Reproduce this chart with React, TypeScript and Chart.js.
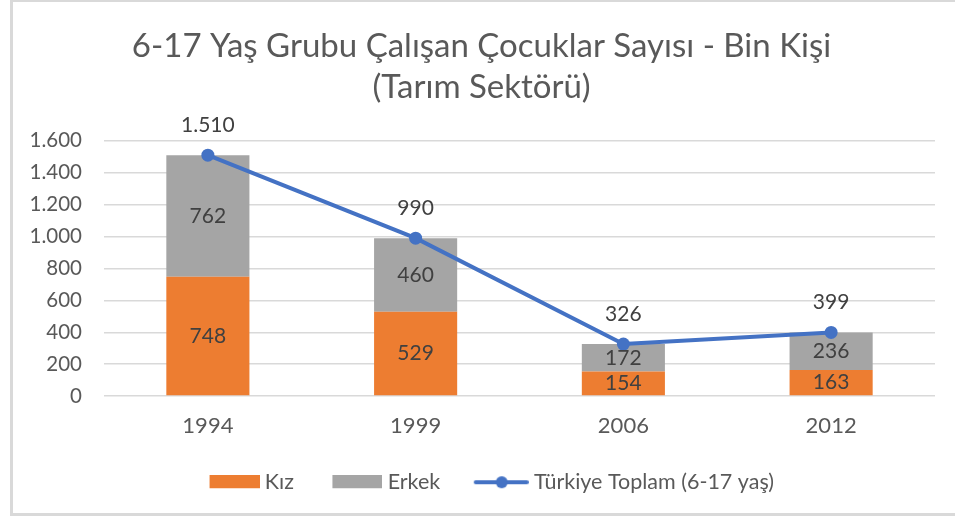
import React, { useEffect, useRef } from "react";
import { Chart, registerables } from "chart.js";

Chart.register(...registerables);

const categories = ["1994", "1999", "2006", "2012"];
const kizValues = [748, 529, 154, 163];
const erkekValues = [762, 460, 172, 236];
const toplamValues = [1510, 990, 326, 399];
const yTicks = [0, 200, 400, 600, 800, 1000, 1200, 1400, 1600];
const titleLines = ["6-17 Yaş Grubu Çalışan Çocuklar Sayısı - Bin Kişi", "(Tarım Sektörü)"];
const seriesNames = ["Kız", "Erkek", "Türkiye Toplam (6-17 yaş)"];

const ORANGE = "#ED7D31";
const GRAY = "#A5A5A5";
const BLUE = "#4472C4";
const TEXT = "#595959";
const LABEL = "#404040";
const FONT = 'Lato, "Open Sans", sans-serif';

const PLOT_LEFT = 104;
const LEGEND_SHIFT = 16.5;
const TITLE_SHIFT = 14;
const LEG_W = 60; // reserved legend box width
const LEG_C = 71; // icon canvas width

const fmt = (n: number) => String(Math.round(n)).replace(/\B(?=(\d{3})+(?!\d))/g, ".");

function rectIcon(color: string) {
  const c = document.createElement("canvas");
  c.width = LEG_C;
  c.height = 14;
  const ctx = c.getContext("2d")!;
  ctx.fillStyle = color;
  ctx.fillRect(LEG_C - 50, 0, 50, 13);
  return c;
}

function lineIcon(color: string) {
  const c = document.createElement("canvas");
  c.width = LEG_C;
  c.height = 14;
  const ctx = c.getContext("2d")!;
  ctx.strokeStyle = color;
  ctx.lineWidth = 4;
  ctx.lineCap = "round";
  ctx.beginPath();
  ctx.moveTo(LEG_C - 53, 7);
  ctx.lineTo(LEG_C - 2, 7);
  ctx.stroke();
  ctx.fillStyle = color;
  ctx.beginPath();
  ctx.arc(LEG_C - 27, 7, 6, 0, Math.PI * 2);
  ctx.fill();
  return c;
}

const shiftBlocks = {
  id: "shiftBlocks",
  afterLayout(chart: any) {
    if (chart.legend) {
      chart.legend.left += LEGEND_SHIFT;
      chart.legend.right += LEGEND_SHIFT;
    }
    if (chart.titleBlock) {
      chart.titleBlock.left += TITLE_SHIFT;
      chart.titleBlock.right += TITLE_SHIFT;
    }
  },
};

const dataLabels = {
  id: "dataLabels",
  afterDatasetsDraw(chart: any) {
    const ctx = chart.ctx;
    ctx.save();
    ctx.font = `21px ${FONT}`;
    ctx.fillStyle = LABEL;
    ctx.textAlign = "center";
    ctx.textBaseline = "middle";
    chart.data.datasets.forEach((ds: any, di: number) => {
      const meta = chart.getDatasetMeta(di);
      meta.data.forEach((el: any, i: number) => {
        const v = ds.data[i];
        if (ds.type === "line") {
          ctx.fillText(fmt(v), el.x, el.y - 30);
        } else {
          ctx.fillText(fmt(v), el.x, (el.y + el.base) / 2);
        }
      });
    });
    ctx.restore();
  },
};

export default function App() {
  const ref = useRef<HTMLCanvasElement>(null);
  useEffect(() => {
    if (!ref.current) return;
    const icons = [rectIcon(ORANGE), rectIcon(GRAY), lineIcon(BLUE)];
    const chart = new Chart(ref.current, {
      type: "bar",
      data: {
        labels: categories,
        datasets: [
          {
            type: "bar",
            label: seriesNames[0],
            data: kizValues,
            backgroundColor: ORANGE,
            stack: "bars",
            order: 1,
            categoryPercentage: 1,
            barPercentage: 0.4,
          },
          {
            type: "bar",
            label: seriesNames[1],
            data: erkekValues,
            backgroundColor: GRAY,
            stack: "bars",
            order: 1,
            categoryPercentage: 1,
            barPercentage: 0.4,
          },
          {
            type: "line",
            label: seriesNames[2],
            data: toplamValues,
            borderColor: BLUE,
            backgroundColor: BLUE,
            borderWidth: 4,
            pointRadius: 6.5,
            pointBackgroundColor: BLUE,
            pointBorderWidth: 0,
            stack: "line",
            order: 0,
          } as any,
        ],
      },
      options: {
        animation: false,
        responsive: false,
        maintainAspectRatio: false,
        layout: { padding: { left: 0, right: 20, top: 0, bottom: 14 } },
        plugins: {
          tooltip: { enabled: false },
          title: {
            display: true,
            text: titleLines,
            color: TEXT,
            font: { family: FONT, size: 33, weight: "normal", lineHeight: 1.24 },
            padding: { top: 26, bottom: 33 },
          },
          legend: {
            position: "bottom",
            labels: {
              color: TEXT,
              font: { family: FONT, size: 21.5 },
              usePointStyle: true,
              pointStyleWidth: LEG_W,
              padding: 23,
              generateLabels: () =>
                seriesNames.map((name, i) => ({
                  text: name,
                  fillStyle: "transparent",
                  strokeStyle: "transparent",
                  lineWidth: 0,
                  pointStyle: icons[i] as any,
                  datasetIndex: i,
                  hidden: false,
                  fontColor: TEXT,
                })),
            },
          },
        },
        scales: {
          x: {
            stacked: true,
            grid: { display: false },
            border: { display: false },
            ticks: { color: TEXT, font: { family: FONT, size: 22 }, padding: 9 },
          },
          y: {
            stacked: true,
            min: 0,
            max: 1600,
            grid: { color: "#D9D9D9", lineWidth: 1.5, drawTicks: false },
            border: { display: false },
            afterBuildTicks: (scale: any) => {
              scale.ticks = yTicks.map((v) => ({ value: v }));
            },
            afterFit: (scale: any) => {
              scale.width = PLOT_LEFT;
            },
            ticks: {
              color: TEXT,
              font: { family: FONT, size: 20.5 },
              padding: 22,
              callback: (v: any) => fmt(Number(v)),
            },
          },
        },
      },
      plugins: [dataLabels, shiftBlocks],
    });
    return () => chart.destroy();
  }, []);
  return (
    <div style={{ position: "absolute", left: 0, top: 0, width: 955, height: 517, overflow: "hidden", background: "#fff" }}>
      <div
        style={{
          position: "absolute",
          left: 10,
          top: 0,
          width: 960,
          height: 516,
          boxSizing: "border-box",
          borderLeft: "3px solid #D9D9D9",
          borderTop: "2px solid #D9D9D9",
          borderBottom: "3px solid #D9D9D9",
        }}
      />
      <canvas ref={ref} width={955} height={517} style={{ position: "absolute", left: 0, top: 0 }} />
    </div>
  );
}
